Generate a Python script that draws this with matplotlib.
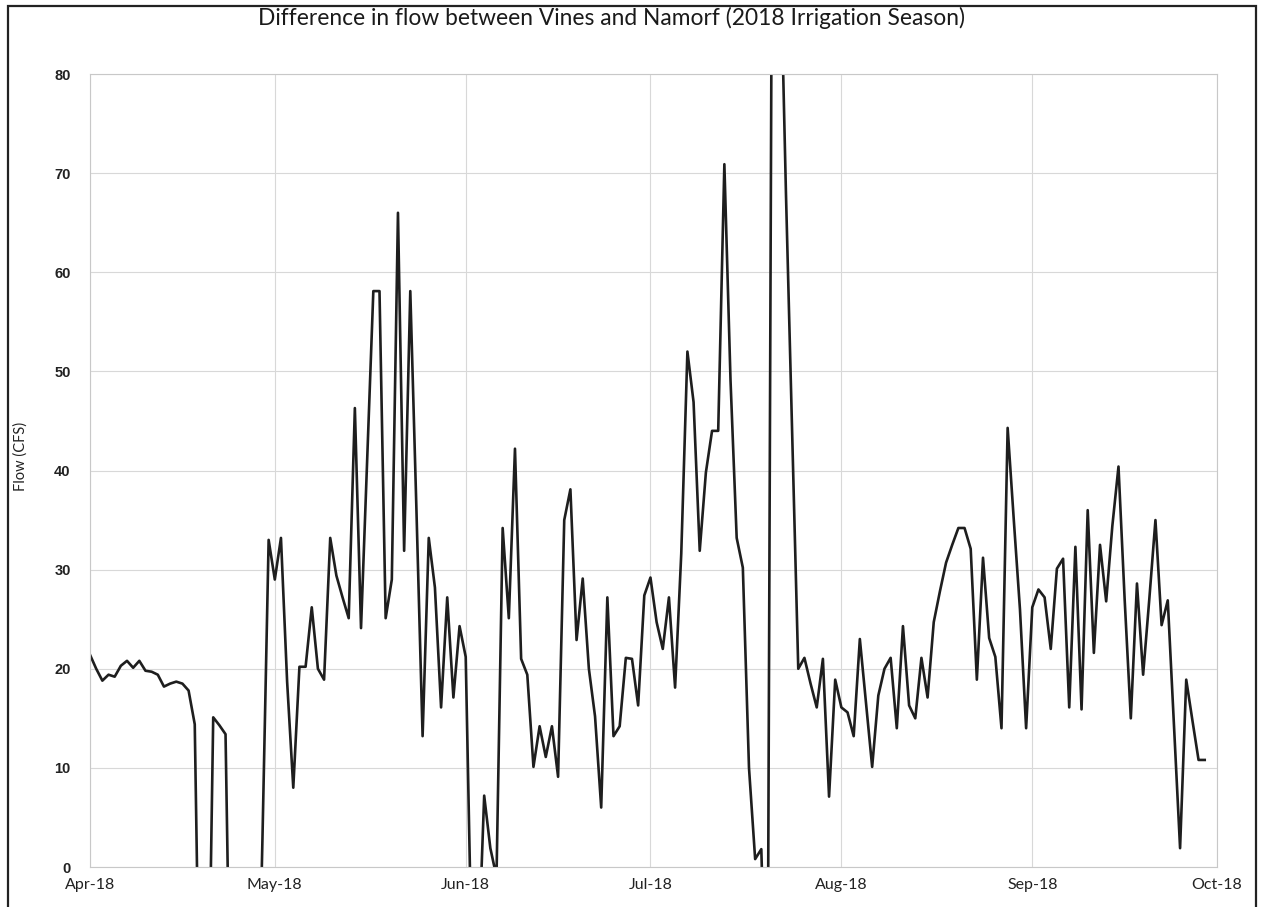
import matplotlib
matplotlib.use('Agg')
import matplotlib.pyplot as plt
import matplotlib.dates as mdates
from matplotlib.ticker import MultipleLocator
from matplotlib.patches import Rectangle
import pandas as pd

# daily flow difference (CFS), values outside 0-80 are clipped by the axis
apr = [21.4, 20.0, 18.8, 19.4, 19.2, 20.3, 20.8, 20.1, 20.8, 19.8,
       19.7, 19.4, 18.2, 18.5, 18.7, 18.5, 17.8, 14.4, -25, -25,
       15.1, 14.3, 13.4, -25, -25, -25, -25, -25, 3.0, 33.0]
may = [29.0, 33.2, 18.7, 8.0, 20.2, 20.2, 26.2, 20.0, 18.9, 33.2,
       29.4, 27.2, 25.1, 46.3, 24.1, 41.0, 58.1, 58.1, 25.1, 29.0,
       66.0, 31.9, 58.1, 36.0, 13.2, 33.2, 28.2, 16.1, 27.2, 17.1, 24.3]
jun = [21.2, -10, -10, 7.2, 1.9, -1, 34.2, 25.1, 42.2, 21.0,
       19.4, 10.1, 14.2, 11.1, 14.2, 9.1, 35.0, 38.1, 22.9, 29.1,
       20.0, 15.2, 6.0, 27.2, 13.2, 14.2, 21.1, 21.0, 16.3, 27.4]
jul = [29.2, 24.7, 22.0, 27.2, 18.1, 31.6, 52.0, 46.9, 31.9, 39.8,
       44.0, 44.0, 70.9, 49.1, 33.2, 30.2, 10.0, 0.8, 1.8, -20,
       140, 95, 68, 44, 20.0, 21.1, 18.5, 16.1, 21.0, 7.1, 18.9]
aug = [16.1, 15.6, 13.2, 23.0, 16.5, 10.1, 17.3, 20.0, 21.1, 14.0,
       24.3, 16.3, 15.0, 21.1, 17.1, 24.7, 27.8, 30.7, 32.5, 34.2,
       34.2, 32.1, 18.9, 31.2, 23.1, 21.2, 14.0, 44.3, 35.0, 26.0, 14.0]
sep = [26.2, 28.0, 27.2, 22.0, 30.1, 31.1, 16.1, 32.3, 15.9, 36.0,
       21.6, 32.5, 26.8, 34.4, 40.4, 27.0, 15.0, 28.6, 19.4, 27.0,
       35.0, 24.4, 26.9, 14.4, 1.9, 18.9, 14.8, 10.8, 10.8]

flow = apr + may + jun + jul + aug + sep
dates = pd.date_range('2018-04-01', periods=len(flow), freq='D')

title = 'Difference in flow between Vines and Namorf (2018 Irrigation Season)'

fig = plt.figure(figsize=(12.63, 9.07), dpi=100)
ax = fig.add_axes([0.0713, 0.0441, 0.8923, 0.8743])

ax.plot(dates, flow, color='#1e1e1e', lw=1.9)

ax.set_xlim(pd.Timestamp('2018-04-01'), pd.Timestamp('2018-10-01'))
ax.set_ylim(0, 80)
ax.xaxis.set_major_locator(mdates.MonthLocator())
ax.xaxis.set_major_formatter(mdates.DateFormatter('%b-%y'))
ax.yaxis.set_major_locator(MultipleLocator(10))

ax.grid(color='#d8d8d8', lw=0.8)
ax.set_axisbelow(True)
ax.tick_params(length=0)
ax.tick_params(axis='y', pad=14)
ax.tick_params(axis='x', pad=8)
for lab in ax.get_yticklabels():
    lab.set_fontfamily('Liberation Sans')
    lab.set_fontweight('bold')
    lab.set_fontsize(10.5)
    lab.set_color('#222222')
for lab in ax.get_xticklabels():
    lab.set_fontfamily('Lato')
    lab.set_fontsize(11.5)
    lab.set_color('#222222')
for s in ax.spines.values():
    s.set_color('#c8c8c8')

fig.text(0.484, 0.980, title, ha='center', va='center',
         fontsize=16.4, family='Lato', color='#1a1a1a')
fig.text(0.016, 0.497, 'Flow (CFS)', ha='center', va='center',
         rotation=90, fontsize=10.5, family='Lato', color='#222222')

# border of the scanned chart box
fig.add_artist(Rectangle((0.0063, -0.1), 0.988, 1.0934,
                         transform=fig.transFigure, fill=False,
                         lw=1.6, ec='#222222'))

fig.savefig('out.png', dpi=100)
